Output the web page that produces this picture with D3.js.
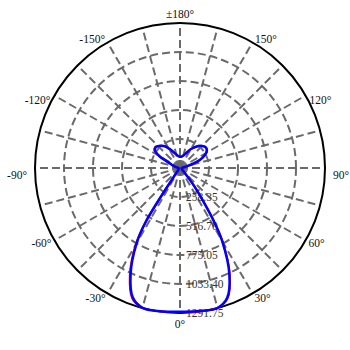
<!DOCTYPE html>
<html><head><meta charset="utf-8">
<script src="https://cdn.jsdelivr.net/npm/d3@7"></script>
<style>body{margin:0;background:#fff} svg{display:block}</style>
</head><body>
<svg id="chart" width="350" height="350"></svg>
<script>
// Angles measured from nadir (0° = down), degrees
const angles = [0,5,10,15,20,25,30,32.5,35,37.5,40,45,50,60,70,80,90,100,105,110,115,120,125,130,135,140,145,150,155,160,165,170,175,180];
// C90 (right, blue) and C270 (left, blue)
const blueRight = [1280,1284,1290,1291,1230,1040,752,558,357,232,135,50,28,20,16,15,16,30,72,158,225,270,292,293,278,255,226,195,160,132,116,106,101,100];
const blueLeft  = [1280,1285,1291,1290,1229,1041,772,560,110,40,25,20,18,15,13,12,13,22,42,68,100,210,272,285,276,258,236,202,170,143,125,111,104,100];
// C0 (right, red) and C180 (left, red)
const redRight  = [1282,1287,1291,1291,1238,1050,760,562,365,238,140,55,30,22,17,16,17,32,80,165,222,268,289,291,276,254,225,193,158,130,115,105,101,100];
const redLeft   = [1282,1288,1291,1291,1240,1058,790,575,118,45,28,22,19,16,14,13,14,24,45,75,110,218,280,290,278,258,235,200,168,141,124,110,103,100];
const ringTicks = [258.35, 516.70, 775.05, 1033.40, 1291.75];
const ringLabels = ["258.35","516.70","775.05","1033.40","1291.75"];
const spokeAngles = d3.range(0, 360, 15);
const angleTicks = [0,30,60,90,120,150,180,-150,-120,-90,-60,-30];
const angleLabels = ["0°","30°","60°","90°","120°","150°","±180°","-150°","-120°","-90°","-60°","-30°"];

const cx = 180, cy = 168, R = 145;
const svg = d3.select("#chart");
const g = svg.append("g").attr("transform", `translate(${cx},${cy})`);
const r = d3.scaleLinear().domain([0, 1291.75]).range([0, R]);
const rad = d => (180 - d) * Math.PI / 180; // d3 radial angle from nadir-based degrees
const px = (deg, rr) => rr * Math.sin(deg * Math.PI / 180);
const py = (deg, rr) => rr * Math.cos(deg * Math.PI / 180);

const gridColor = "#6a6a6a";
// rings
g.selectAll("circle.ring").data(ringTicks.slice(0, -1)).join("circle")
  .attr("r", d => r(d)).attr("fill", "none")
  .attr("stroke", gridColor).attr("stroke-width", 2).attr("stroke-dasharray", "8,4");
// spokes
g.selectAll("line.spoke").data(spokeAngles).join("line")
  .attr("x1", 0).attr("y1", 0)
  .attr("x2", d => px(d, R)).attr("y2", d => py(d, R))
  .attr("stroke", gridColor).attr("stroke-width", 2).attr("stroke-dasharray", "8,4");
// outer circle
g.append("circle").attr("r", r(ringTicks[ringTicks.length - 1]))
  .attr("fill", "none").attr("stroke", "#000").attr("stroke-width", 2);

// ring labels
g.selectAll("text.ring").data(ringTicks).join("text")
  .attr("x", 6).attr("y", d => r(d) + 4)
  .attr("font-family", "'Liberation Serif', 'Times New Roman', serif")
  .attr("font-size", 11.5).attr("fill", "#333")
  .text((d, i) => ringLabels[i]);

// angle labels
const labelStyle = {
  0: ["middle", 0, 15], 30: ["start", 2, 8.5], 60: ["start", 3, 6.5], 90: ["start", 8, 10.5],
  120: ["start", 4, 8], 150: ["start", 2.5, 0.5], 180: ["middle", 0, -5]
};
g.selectAll("text.ang").data(angleTicks).join("text")
  .attr("x", d => {
    const s = labelStyle[Math.abs(d)];
    return px(d, R) + Math.sign(d) * s[1];
  })
  .attr("y", d => py(d, R) + labelStyle[Math.abs(d)][2])
  .attr("text-anchor", d => {
    const s = labelStyle[Math.abs(d)][0];
    return s === "middle" ? "middle" : (d < 0 ? "end" : "start");
  })
  .attr("font-family", "'Liberation Serif', 'Times New Roman', serif")
  .attr("font-size", 11.5).attr("fill", "#111")
  .text((d, i) => angleLabels[i]);

// curves
function buildPoints(right, left) {
  const pts = [];
  angles.forEach((a, i) => pts.push([rad(a), r(right[i])]));
  for (let i = angles.length - 2; i >= 1; i--) pts.push([rad(-angles[i]), r(left[i])]);
  return pts;
}
const line = d3.lineRadial().angle(d => d[0]).radius(d => d[1])
  .curve(d3.curveCatmullRomClosed.alpha(0.5));
g.append("path").attr("d", line(buildPoints(redRight, redLeft)))
  .attr("fill", "none").attr("stroke", "#ff0000").attr("stroke-width", 2);
g.append("path").attr("d", line(buildPoints(blueRight, blueLeft)))
  .attr("fill", "none").attr("stroke", "#0000ff").attr("stroke-width", 2.5);
</script>
</body></html>
